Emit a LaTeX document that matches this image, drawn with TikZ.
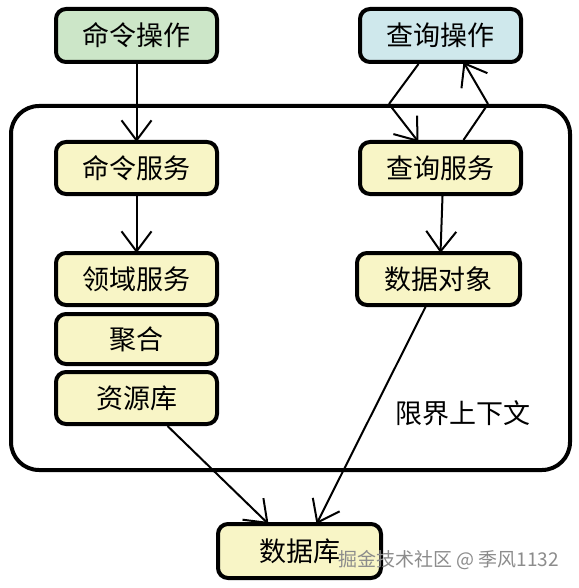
\documentclass[tikz,border=0pt]{standalone}
\usepackage{fontspec}
\setmainfont{Noto Sans CJK SC}
\newfontfamily\cjk{Noto Sans CJK SC}
\usetikzlibrary{arrows.meta}
\definecolor{opgreen}{HTML}{CCE6C8}
\definecolor{opblue}{HTML}{CFE8EC}
\definecolor{svcyellow}{HTML}{F8F5C6}
\begin{document}
\begin{tikzpicture}[x=1pt,y=-1pt,
  box/.style={draw=black, line width=4pt, rounded corners=10pt, minimum width=161pt, minimum height=52pt, inner sep=0pt, font=\cjk\fontsize{27}{30}\selectfont, fill=svcyellow},
  arr/.style={line width=2pt, -{Straight Barb[length=20pt, width=30pt, line width=2pt]}}
]
\useasboundingbox (0,0) rectangle (578,588);
\fill[white] (0,0) rectangle (578,588);
% container
\draw[line width=4pt, rounded corners=28pt] (11,106) rectangle (570,470);
\node[box, fill=opgreen, minimum height=53pt] (cmdop) at (136.5,35.5) {命令操作};
\node[box, fill=opblue, minimum height=53pt] (qop) at (440.5,35.5) {查询操作};
\node[box] (cmdsvc) at (136.5,168) {命令服务};
\node[box] (qsvc) at (440.5,168) {查询服务};
\node[box] (domain) at (136.5,279) {领域服务};
\node[box, minimum height=50pt] (agg) at (136.5,339) {聚合};
\node[box] (repo) at (136.5,398) {资源库};
\node[box, minimum width=163pt] (dobj) at (438.5,279) {数据对象};
\node[box, minimum width=163pt, minimum height=54pt] (db) at (299.5,551) {数据库};
\node[font=\cjk\fontsize{27}{30}\selectfont] (ctx) at (463,413) {限界上下文};
% connectors
\coordinate (q1) at (389,104);
\coordinate (q2) at (488,104);
\draw[arr] (cmdop.south) -- ([yshift=-2pt]cmdsvc.north);
\draw[arr, -] ([xshift=-22pt]qop.south) -- (q1);
\draw[arr] (q1) -- ([xshift=-22pt,yshift=-2pt]qsvc.north);
\draw[arr, -] ([xshift=23pt]qsvc.north) -- (q2);
\draw[arr] (q2) -- ([xshift=23pt,yshift=2pt]qop.south);
\draw[arr] (cmdsvc.south) -- ([yshift=-2pt]domain.north);
\draw[arr] ([xshift=2pt]qsvc.south) -- ([xshift=2pt,yshift=-2pt]dobj.north);
\draw[arr] ([xshift=31pt]repo.south) -- ([xshift=-31pt,yshift=-2pt]db.north);
\draw[arr] ([xshift=-13pt]dobj.south) -- ([xshift=17pt,yshift=-2pt]db.north);
% watermark
\node[font=\cjk\fontsize{19}{22}\selectfont, text=black!45, anchor=west, inner sep=0pt] (wm) at (338,560) {掘金技术社区 @ 季风1132};
\end{tikzpicture}
\end{document}
